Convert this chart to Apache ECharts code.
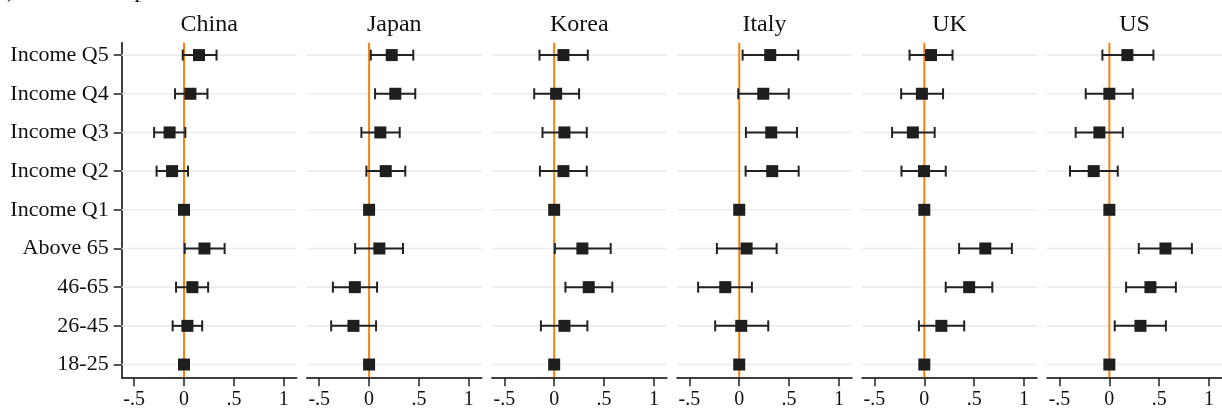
<!DOCTYPE html>
<html>
<head>
<meta charset="utf-8">
<script src="https://cdn.jsdelivr.net/npm/echarts@6/dist/echarts.min.js"></script>
<style>
html,body{margin:0;padding:0;background:#fff;}
#c{width:1222px;height:416px;}
</style>
</head>
<body>
<div id="c"></div>
<script>
// ---- data (top row first) ----
const categories = ['Income Q5','Income Q4','Income Q3','Income Q2','Income Q1','Above 65','46-65','26-45','18-25'];
const countries = ['China','Japan','Korea','Italy','UK','US'];
const xTicks = [-0.5, 0, 0.5, 1];
const xTickLabels = ['-.5','0','.5','1'];

const chinaCoef = [0.150, 0.064, -0.145, -0.120, 0, 0.205, 0.084, 0.034, 0];
const chinaLow  = [-0.013, -0.090, -0.300, -0.275, null, 0.007, -0.080, -0.114, null];
const chinaHigh = [0.326, 0.235, 0.013, 0.040, null, 0.407, 0.242, 0.182, null];

const japanCoef = [0.227, 0.263, 0.113, 0.167, 0, 0.103, -0.143, -0.157, 0];
const japanLow  = [0.017, 0.060, -0.077, -0.027, null, -0.140, -0.363, -0.380, null];
const japanHigh = [0.443, 0.463, 0.307, 0.363, null, 0.340, 0.080, 0.070, null];

const koreaCoef = [0.093, 0.020, 0.103, 0.093, 0, 0.283, 0.347, 0.103, 0];
const koreaLow  = [-0.147, -0.200, -0.117, -0.143, null, 0.007, 0.113, -0.133, null];
const koreaHigh = [0.337, 0.250, 0.327, 0.327, null, 0.567, 0.583, 0.333, null];

const italyCoef = [0.311, 0.241, 0.321, 0.331, 0, 0.074, -0.140, 0.020, 0];
const italyLow  = [0.034, -0.010, 0.067, 0.064, null, -0.224, -0.412, -0.241, null];
const italyHigh = [0.592, 0.496, 0.579, 0.596, null, 0.375, 0.127, 0.291, null];

const ukCoef = [0.067, -0.024, -0.115, -0.003, 0, 0.612, 0.450, 0.171, 0];
const ukLow  = [-0.148, -0.232, -0.323, -0.229, null, 0.349, 0.215, -0.054, null];
const ukHigh = [0.283, 0.188, 0.104, 0.215, null, 0.878, 0.682, 0.400, null];

const usCoef = [0.181, 0.000, -0.100, -0.157, 0, 0.563, 0.412, 0.312, 0];
const usLow  = [-0.070, -0.237, -0.338, -0.395, null, 0.295, 0.168, 0.054, null];
const usHigh = [0.442, 0.235, 0.135, 0.084, null, 0.828, 0.667, 0.567, null];

const panels = [
  [chinaCoef, chinaLow, chinaHigh],
  [japanCoef, japanLow, japanHigh],
  [koreaCoef, koreaLow, koreaHigh],
  [italyCoef, italyLow, italyHigh],
  [ukCoef, ukLow, ukHigh],
  [usCoef, usLow, usHigh]
];

// ---- layout ----
const FONT = "'Liberation Serif','DejaVu Serif',serif";
const GRID_LEFT0 = 121.7, GRID_PITCH = 185.07, GRID_W = 175, GRID_TOP = 42.7, GRID_H = 334.6;
const catIdx = categories.map((c, i) => i);

const grids = [], xAxes = [], yAxes = [], series = [], graphics = [];

panels.forEach((p, k) => {
  const left = GRID_LEFT0 + k * GRID_PITCH;
  grids.push({left: left, top: GRID_TOP, width: GRID_W, height: GRID_H, containLabel: false});
  xAxes.push({
    gridIndex: k, type: 'value', min: -0.625, max: 1.13,
    axisLine: {show: true, onZero: false, lineStyle: {color: '#000', width: 1.5}},
    axisTick: {show: true, length: 9, customValues: xTicks, lineStyle: {color: '#222', width: 1.5}},
    axisLabel: {show: true, customValues: xTicks, margin: 12, fontFamily: FONT, fontSize: 20, color: '#111',
      formatter: v => xTickLabels[xTicks.findIndex(t => Math.abs(t - v) < 1e-9)]},
    splitLine: {show: false}
  });
  yAxes.push({
    gridIndex: k, type: 'value', inverse: true, min: -0.32, max: 8.33,
    axisLine: {show: k === 0, onZero: false, lineStyle: {color: '#000', width: 1.5}},
    axisTick: {show: k === 0, length: 8, customValues: catIdx, lineStyle: {color: '#222', width: 1.5}},
    axisLabel: {show: k === 0, customValues: catIdx, margin: 13, fontFamily: FONT, fontSize: 22, color: '#111',
      formatter: v => categories[Math.round(v)]},
    splitLine: {show: false}
  });
  graphics.push({
    type: 'text', x: left + GRID_W / 2, y: 25,
    style: {text: countries[k], font: '24px ' + FONT, fill: '#111', textAlign: 'center', textVerticalAlign: 'middle'}
  });

  // horizontal light grid lines
  series.push({
    type: 'custom', xAxisIndex: k, yAxisIndex: k, z: 1, silent: true,
    data: catIdx.map(i => [0, i]), encode: {x: 0, y: 1},
    renderItem: (params, api) => {
      const cs = params.coordSys;
      const yy = api.coord([0, api.value(1)])[1];
      return {type: 'line', shape: {x1: cs.x, y1: yy, x2: cs.x + cs.width, y2: yy},
        style: {stroke: '#ececec', lineWidth: 1.6}};
    }
  });
  // orange zero line
  series.push({
    type: 'custom', xAxisIndex: k, yAxisIndex: k, z: 2, silent: true,
    data: [[0, 0]], encode: {x: 0, y: 1},
    renderItem: (params, api) => {
      const cs = params.coordSys;
      const xx = api.coord([0, 0])[0];
      return {type: 'line', shape: {x1: xx, y1: cs.y, x2: xx, y2: cs.y + cs.height},
        style: {stroke: '#f7820f', lineWidth: 2}};
    }
  });
  // error bars
  const ciData = [];
  p[0].forEach((c, i) => { if (p[1][i] !== null) ciData.push([i, p[1][i], p[2][i]]); });
  series.push({
    type: 'custom', xAxisIndex: k, yAxisIndex: k, z: 3, silent: true,
    data: ciData, encode: {x: [1, 2], y: 0},
    renderItem: (params, api) => {
      const y = api.value(0), lo = api.value(1), hi = api.value(2);
      const a = api.coord([lo, y]), b = api.coord([hi, y]);
      const h = 5.5;
      const st = {stroke: '#222', lineWidth: 2};
      return {type: 'group', children: [
        {type: 'line', shape: {x1: a[0], y1: a[1], x2: b[0], y2: b[1]}, style: st},
        {type: 'line', shape: {x1: a[0], y1: a[1] - h, x2: a[0], y2: a[1] + h}, style: st},
        {type: 'line', shape: {x1: b[0], y1: b[1] - h, x2: b[0], y2: b[1] + h}, style: st}
      ]};
    }
  });
  // point estimates
  series.push({
    type: 'scatter', xAxisIndex: k, yAxisIndex: k, z: 4, silent: true,
    symbol: 'rect', symbolSize: 12,
    itemStyle: {color: '#1e1e1e', opacity: 1},
    data: p[0].map((c, i) => [c, i])
  });
});

graphics.push({
  type: 'text', x: -13, y: 3,
  style: {text: '(b) Coefficient plot', font: '24px ' + FONT, fill: '#111', textAlign: 'left', textVerticalAlign: 'bottom'}
});

const chart = echarts.init(document.getElementById('c'), null, {renderer: 'canvas'});
chart.setOption({
  animation: false,
  backgroundColor: '#fff',
  grid: grids,
  xAxis: xAxes,
  yAxis: yAxes,
  series: series,
  graphic: graphics
});
</script>
</body>
</html>
